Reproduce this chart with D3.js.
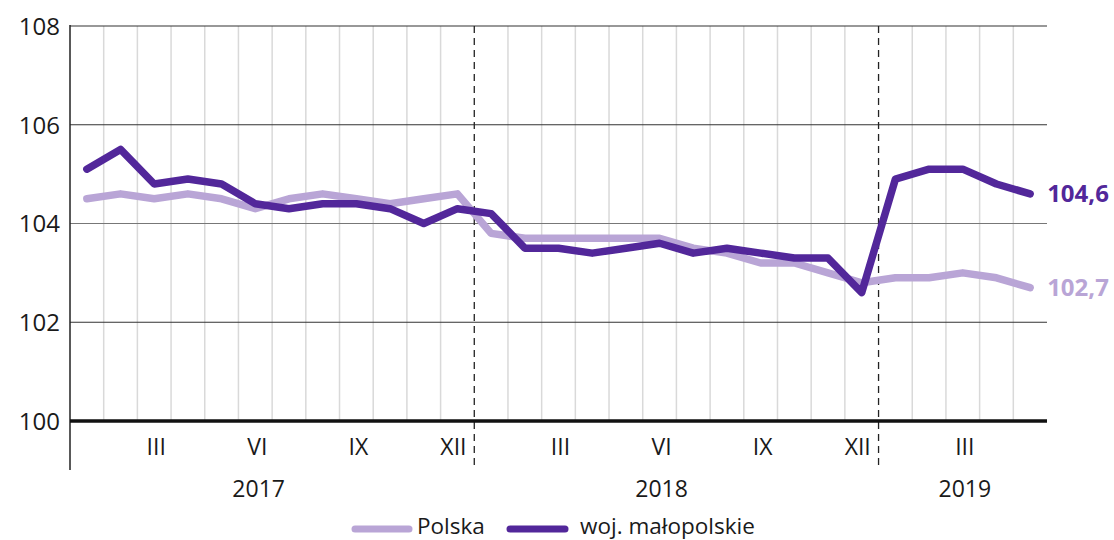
<!DOCTYPE html>
<html>
<head>
<meta charset="utf-8">
<script src="https://cdn.jsdelivr.net/npm/d3@7"></script>
<style>
  html, body { margin: 0; padding: 0; background: #fff; }
  svg { display: block; font-family: "Open Sans", "Noto Sans", sans-serif; }
</style>
</head>
<body>
<svg id="chart" width="1114" height="540"></svg>
<script>
// ---- data ----
const months = ["I","II","III","IV","V","VI","VII","VIII","IX","X","XI","XII",
                "I","II","III","IV","V","VI","VII","VIII","IX","X","XI","XII",
                "I","II","III","IV","V"];
const polska = [104.5,104.6,104.5,104.6,104.5,104.3,104.5,104.6,104.5,104.4,104.5,104.6,
                103.8,103.7,103.7,103.7,103.7,103.7,103.5,103.4,103.2,103.2,103.0,102.8,
                102.9,102.9,103.0,102.9,102.7];
const malopolskie = [105.1,105.5,104.8,104.9,104.8,104.4,104.3,104.4,104.4,104.3,104.0,104.3,
                     104.2,103.5,103.5,103.4,103.5,103.6,103.4,103.5,103.4,103.3,103.3,102.6,
                     104.9,105.1,105.1,104.8,104.6];
const romanTicks = [2,5,8,11,14,17,20,23,26];          // month indices labelled (III, VI, IX, XII)
const years = ["2017","2018","2019"];
const yearLabelPos = [5.6,17.56,26.56];                  // month-index positions of year labels
const yearBreaks = [12,24];                              // dashed separators (month boundaries)
const yTicks = [100,102,104,106,108];
const seriesNames = ["Polska","woj. małopolskie"];
const colors = {polska:"#b9a5d6", malo:"#52279a"};

(function () {
// ---- layout ----
const svg = d3.select("#chart");
const mLeft = 70, mRight = 1047, mTop = 26, mBottom = 421;
const n = months.length;

const x = d3.scaleLinear().domain([0, n]).range([mLeft, mRight]);
const y = d3.scaleLinear().domain([100, 108]).range([mBottom, mTop]);
const cx = i => x(i + 0.5);

// vertical month grid lines (boundaries)
svg.append("g").selectAll("line")
  .data(d3.range(1, n).filter(k => !yearBreaks.includes(k)))
  .join("line")
  .attr("x1", d => x(d)).attr("x2", d => x(d))
  .attr("y1", mTop).attr("y2", mBottom)
  .attr("stroke", "#d9d9d9").attr("stroke-width", 1.5);

// horizontal grid lines
svg.append("g").selectAll("line")
  .data(yTicks.filter(v => v !== 100))
  .join("line")
  .attr("x1", mLeft).attr("x2", mRight)
  .attr("y1", d => y(d)).attr("y2", d => y(d))
  .attr("stroke", d => d === 104 ? "#777" : "#333").attr("stroke-width", 1.2);

// dashed year separators
svg.append("g").selectAll("line")
  .data(yearBreaks)
  .join("line")
  .attr("x1", d => x(d)).attr("x2", d => x(d))
  .attr("y1", mTop).attr("y2", 470)
  .attr("stroke", "#222").attr("stroke-width", 1.3)
  .attr("stroke-dasharray", "7,5");

// left axis line
svg.append("line")
  .attr("x1", mLeft).attr("x2", mLeft).attr("y1", mTop - 1).attr("y2", 470)
  .attr("stroke", "#222").attr("stroke-width", 1.5);

// baseline 100
svg.append("line")
  .attr("x1", mLeft).attr("x2", mRight).attr("y1", y(100)).attr("y2", y(100))
  .attr("stroke", "#111").attr("stroke-width", 3.5);

// y axis tick labels
const yAxis = d3.axisLeft(y).tickValues(yTicks).tickSize(0).tickPadding(10);
const gy = svg.append("g").attr("transform", `translate(${mLeft},0)`).call(yAxis);
gy.select(".domain").remove();
gy.selectAll("text").attr("font-size", 24).attr("fill", "#1a1a1a")
  .attr("font-family", "'Open Sans', sans-serif").attr("dy", "0.35em");

// month labels
svg.append("g").selectAll("text")
  .data(romanTicks)
  .join("text")
  .attr("x", d => cx(d) + (months[d] === "XII" ? -4 : 2))
  .attr("y", 447).attr("dy", "0.35em")
  .attr("text-anchor", "middle").attr("font-size", 23).attr("fill", "#1a1a1a")
  .text(d => months[d]);

// year labels
svg.append("g").selectAll("text")
  .data(years)
  .join("text")
  .attr("x", (d, i) => x(yearLabelPos[i]))
  .attr("y", 489).attr("dy", "0.35em")
  .attr("text-anchor", "middle").attr("font-size", 23).attr("fill", "#1a1a1a")
  .text(d => d);

// lines
const line = d3.line().x((d, i) => cx(i)).y(d => y(d));
svg.append("path").datum(polska).attr("d", line)
  .attr("fill", "none").attr("stroke", colors.polska).attr("stroke-width", 7.5)
  .attr("stroke-linejoin", "round").attr("stroke-linecap", "round");
svg.append("path").datum(malopolskie).attr("d", line)
  .attr("fill", "none").attr("stroke", colors.malo).attr("stroke-width", 7.5)
  .attr("stroke-linejoin", "round").attr("stroke-linecap", "round");

// end labels
const fmt = v => d3.format(".1f")(v).replace(".", ",");
[[polska, colors.polska], [malopolskie, colors.malo]].forEach(([s, c]) => {
  svg.append("text")
    .attr("x", cx(n - 1) + 17).attr("y", y(s[n - 1])).attr("dy", "0.35em")
    .attr("font-size", 24).attr("font-weight", "bold").attr("fill", c)
    .text(fmt(s[n - 1]));
});

// legend
const legend = [
  {name: seriesNames[0], color: colors.polska, x1: 355, x2: 409, tx: 417},
  {name: seriesNames[1], color: colors.malo, x1: 510, x2: 565, tx: 580}
];
legend.forEach(l => {
  svg.append("line").attr("x1", l.x1).attr("x2", l.x2).attr("y1", 529).attr("y2", 529)
    .attr("stroke", l.color).attr("stroke-width", 7).attr("stroke-linecap", "round");
  svg.append("text").attr("x", l.tx).attr("y", 534)
    .attr("font-size", 22.5).attr("fill", "#1a1a1a").text(l.name);
});
})();
</script>
</body>
</html>
